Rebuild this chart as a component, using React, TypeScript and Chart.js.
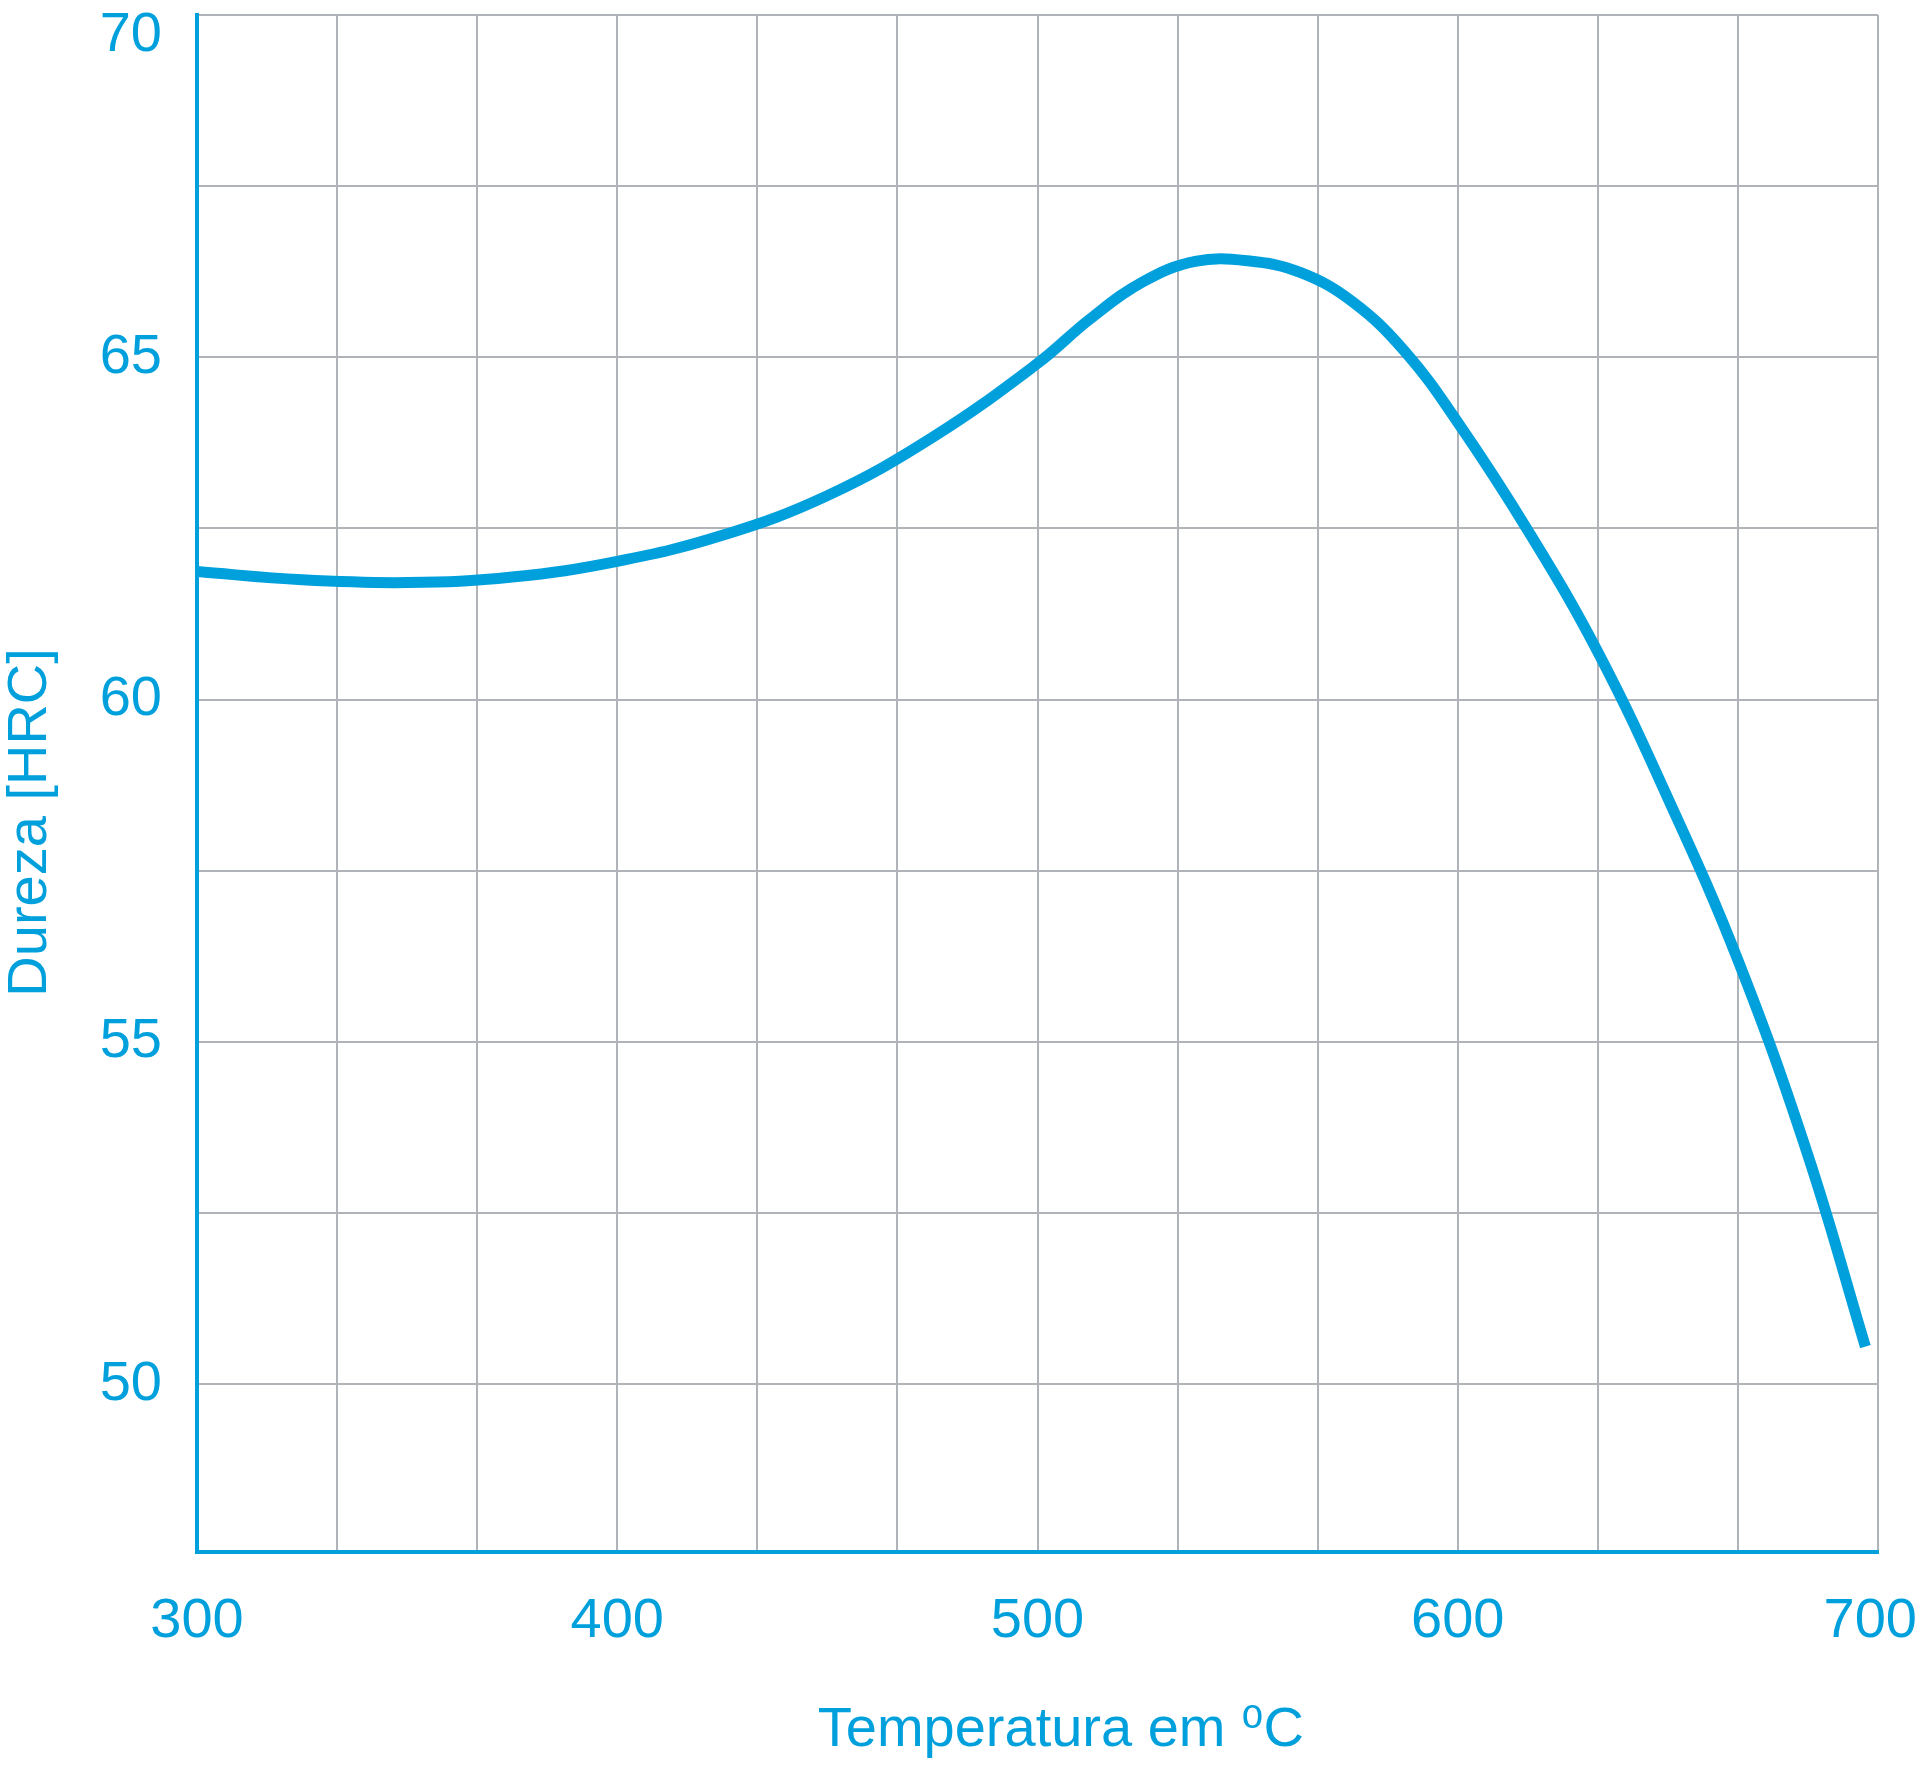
import React, { useEffect, useRef } from 'react';
import { Chart, registerables } from 'chart.js';

Chart.register(...registerables);

// ---- data ----
const temperatures = [300, 325, 350, 375, 400, 425, 450, 475, 500, 512.5, 525, 537.5, 550, 562.5, 575, 587.5, 600, 616.7, 633.3, 650, 666.7, 683.3, 697];
const hardness = [61.87, 61.75, 61.71, 61.79, 62.02, 62.4, 62.98, 63.83, 64.91, 65.56, 66.1, 66.4, 66.41, 66.24, 65.81, 65.08, 64.05, 62.47, 60.7, 58.56, 56.19, 53.35, 50.55];

const xTickLabels = ['300', '400', '500', '600', '700'];
const yTickLabels = ['50', '55', '60', '65', '70'];
const xGridValues = [300, 333.333, 366.667, 400, 433.333, 466.667, 500, 533.333, 566.667, 600, 633.333, 666.667, 700];
const yGridValues = [50, 52.5, 55, 57.5, 60, 62.5, 65, 67.5, 70];

const X_MIN = 300;
const X_MAX = 700;
const Y_MIN = 47.55;
const Y_MAX = 70;

const xTitle = 'Temperatura em \u2070C';
const yTitle = 'Dureza [HRC]';

// ---- styles ----
const BLUE = '#00a0dc';
const GRID = '#b0b4b8';
const FONT = '"Liberation Sans", Arial, "DejaVu Sans", sans-serif';

export default function App() {
  const canvasRef = useRef<HTMLCanvasElement | null>(null);

  useEffect(() => {
    const canvas = canvasRef.current;
    if (!canvas) return;
    const chart = new Chart(canvas, {
      type: 'line',
      data: {
        datasets: [
          {
            data: temperatures.map((t, i) => ({ x: t, y: hardness[i] })),
            borderColor: BLUE,
            borderWidth: 11,
            borderCapStyle: 'butt',
            borderJoinStyle: 'round',
            pointRadius: 0,
            pointHoverRadius: 0,
            fill: false,
            tension: 0.4,
          },
        ],
      },
      options: {
        animation: false,
        responsive: true,
        maintainAspectRatio: false,
        layout: { padding: { top: 15, right: 42, bottom: 0, left: 0 } },
        plugins: {
          legend: { display: false },
          tooltip: { enabled: false },
        },
        scales: {
          x: {
            type: 'linear',
            min: X_MIN,
            max: X_MAX,
            afterBuildTicks: (s: any) => {
              s.ticks = xGridValues.map((v) => ({ value: v }));
            },
            afterFit: (s: any) => {
              s.height = 217;
              s.paddingLeft = 0;
              s.paddingRight = 0;
            },
            grid: { color: GRID, lineWidth: 2, drawTicks: false },
            border: { color: BLUE, width: 4 },
            ticks: {
              color: BLUE,
              padding: 36,
              autoSkip: false,
              maxRotation: 0,
              minRotation: 0,
              font: { family: FONT, size: 56 },
              callback: (_v: any, i: number) => {
                if (i % 3 !== 0) return '';
                const lbl = xTickLabels[i / 3];
                return i / 3 === xTickLabels.length - 1 ? lbl + ' ' : lbl;
              },
            },
            title: {
              display: true,
              text: '   ' + xTitle,
              color: BLUE,
              font: { family: FONT, size: 56, lineHeight: 1.1 },
              padding: { top: 0, bottom: 8 },
            },
          },
          y: {
            type: 'linear',
            min: Y_MIN,
            max: Y_MAX,
            afterBuildTicks: (s: any) => {
              s.ticks = yGridValues.map((v) => ({ value: v }));
            },
            afterFit: (s: any) => {
              s.width = 197;
              s.paddingTop = 0;
              s.paddingBottom = 0;
            },
            grid: { color: GRID, lineWidth: 2, drawTicks: false },
            border: { color: BLUE, width: 4 },
            ticks: {
              color: BLUE,
              padding: 35,
              font: (ctx: any) => ({
                family: FONT,
                size: 56,
                lineHeight: ctx.tick && ctx.tick.value === Y_MAX ? '42px' : 1.2,
              }),
              callback: (v: any) => {
                const s = String(v);
                if (!yTickLabels.includes(s)) return '';
                return v === Y_MAX ? ['', s] : s;
              },
            },
            title: {
              display: true,
              text: yTitle + '     ',
              color: BLUE,
              font: { family: FONT, size: 56, lineHeight: 1.1 },
              padding: { top: 0, bottom: 0 },
            },
          },
        },
      } as any,
    });
    return () => chart.destroy();
  }, []);

  return (
    <div style={{ position: 'absolute', left: 0, top: 0, width: 1920, height: 1769, background: '#ffffff' }}>
      <canvas ref={canvasRef} />
    </div>
  );
}
